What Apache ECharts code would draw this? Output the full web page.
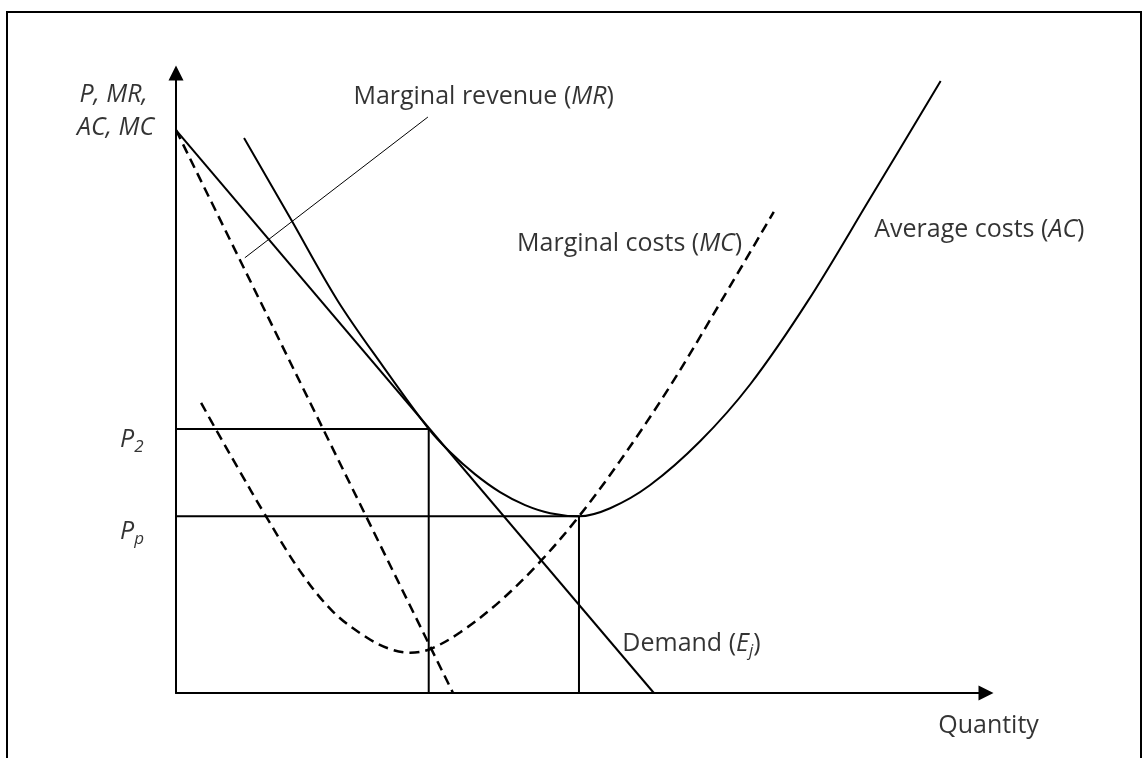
<!DOCTYPE html>
<html>
<head>
<meta charset="utf-8">
<script src="https://cdn.jsdelivr.net/npm/echarts@6/dist/echarts.min.js"></script>
<style>
html, body { margin: 0; padding: 0; background: #fff; }
#main { width: 1142px; height: 758px; }
#frame { position: absolute; left: 6px; top: 11px; width: 1136px; height: 760px; border: 2px solid #000; box-sizing: border-box; pointer-events: none; }
</style>
</head>
<body>
<div id="main"></div>
<div id="frame"></div>
<script>
// quantity 0-100 on x, price 0-100 on y
var demand = [[0, 90.8], [59.0, 0]];
var marginalRevenue = [[0, 90.8], [34.2, 0]];
var averageCost = [
  [8.4, 89.5], [14.1, 76.6], [19.9, 63.4], [25.6, 52.6], [31.2, 42.6],
  [33.8, 38.9], [36.9, 35.3], [40.0, 32.4], [43.1, 30.3], [46.2, 29.0],
  [49.75, 28.5], [53.6, 29.8], [58.5, 33.5], [64.7, 40.6], [70.9, 49.8],
  [78.0, 63.2], [85.7, 79.8], [94.4, 98.7]
];
var marginalCost = [
  [3.1, 46.8], [5.1, 42.1], [7.9, 35.7], [10.7, 29.4], [15.3, 19.7],
  [19.4, 13.1], [23.6, 8.9], [26.4, 7.1], [28.9, 6.5], [31.4, 7.1],
  [35.1, 9.8], [40.0, 14.8], [44.9, 21.1], [49.75, 28.5], [54.8, 37.4],
  [61.0, 49.5], [67.4, 63.4], [73.8, 77.6]
];
var p2 = 42.6, q2 = 31.2;
var pp = 28.5, qp = 49.75;
var mrPointer = [[8.5, 70.2], [31.1, 92.9]];

var notes = [
  { text: '{i|P, MR,}', x: -3.5, y: 96.5, align: 'right' },
  { text: '{i|AC, MC}', x: -2.7, y: 91.1, align: 'right' },
  { text: 'Marginal revenue ({i|MR})', x: 21.9, y: 96.1, align: 'left' },
  { text: 'Marginal costs ({i|MC})', x: 69.9, y: 72.4, align: 'right' },
  { text: 'Average costs ({i|AC})', x: 86.2, y: 74.7, align: 'left' },
  { text: 'Demand ({i|E}{sub|j})', x: 55.1, y: 7.9, align: 'left' },
  { text: '{i|P}{sub|2}', x: -6.9, y: 40.8, align: 'left' },
  { text: '{i|P}{sub|p}', x: -6.9, y: 26.0, align: 'left' },
  { text: 'Quantity', x: 94.1, y: -5.3, align: 'left' }
];

var font = '"Open Sans", "Noto Sans", sans-serif';
var rich = {
  i: { fontStyle: 'italic', fontSize: 25, fontFamily: font, color: '#000', lineHeight: 32 },
  sub: { fontStyle: 'italic', fontSize: 17, fontFamily: font, color: '#000', lineHeight: 16, verticalAlign: 'bottom' }
};

function plain(name, data, opts) {
  var s = {
    name: name,
    type: 'line',
    data: data,
    symbol: 'none',
    clip: false,
    silent: true,
    lineStyle: { color: '#000', width: 2 }
  };
  for (var k in opts) s[k] = opts[k];
  return s;
}

var dashed = { color: '#000', width: 2.5, type: [10, 6] };

var axisBase = {
  type: 'value',
  min: 0,
  max: 100,
  axisLine: {
    show: true,
    symbol: ['none', 'triangle'],
    symbolSize: [15, 15],
    lineStyle: { color: '#000', width: 2 }
  },
  axisTick: { show: false },
  axisLabel: { show: false },
  splitLine: { show: false }
};

var chart = echarts.init(document.getElementById('main'));
chart.setOption({
  animation: false,
  backgroundColor: '#fff',
  grid: { left: 176, top: 73, width: 810, height: 620 },
  xAxis: axisBase,
  yAxis: axisBase,
  series: [
    plain('Demand', demand),
    plain('MR', marginalRevenue, { lineStyle: dashed }),
    plain('AC', averageCost, { smooth: 0.35 }),
    plain('MC', marginalCost, { smooth: 0.35, lineStyle: dashed }),
    plain('P2', [[-0.5, p2], [q2, p2], [q2, 0]]),
    plain('Pp', [[0, pp], [qp, pp], [qp, 0]]),
    plain('pointer', mrPointer, { lineStyle: { color: '#000', width: 1 } }),
    {
      type: 'scatter',
      symbolSize: 0,
      clip: false,
      silent: true,
      data: notes.map(function (n) {
        return {
          value: [n.x, n.y],
          label: {
            show: true,
            position: 'inside',
            align: n.align,
            verticalAlign: 'middle',
            formatter: n.text,
            fontSize: 25,
            fontFamily: font,
            color: '#000',
            lineHeight: 32,
            rich: rich
          }
        };
      })
    }
  ]
});
</script>
</body>
</html>
